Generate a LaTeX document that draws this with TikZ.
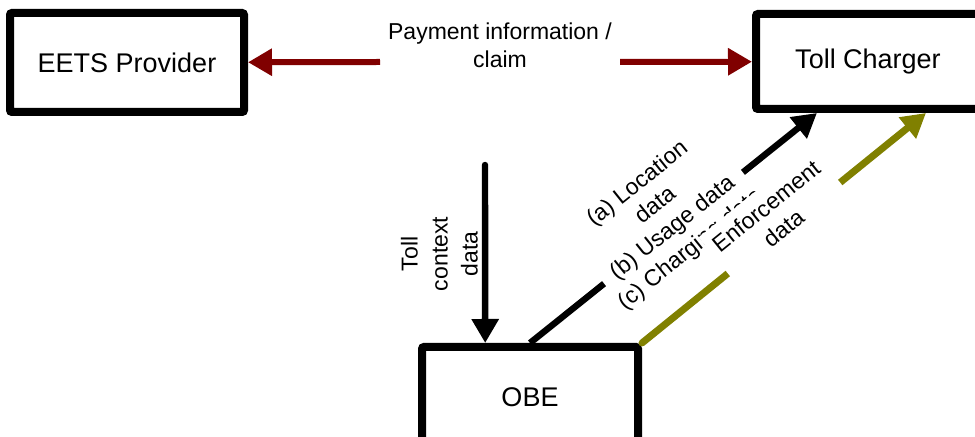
\documentclass[tikz,border=0pt]{standalone}
\usepackage{fontspec}
\setmainfont{Liberation Sans}
\usetikzlibrary{arrows.meta,calc}
\definecolor{darkred}{RGB}{128,0,0}
\definecolor{olivegreen}{RGB}{128,128,0}

\begin{document}
\begin{tikzpicture}[x=0.5pt, y=-0.5pt,
    box/.style={draw, line width=4pt, rounded corners=1pt, fill=white, minimum width=#1, minimum height=49.5pt, font=\fontsize{13.5}{16}\selectfont},
    flow/.style={line width=3.2pt, -{Triangle[length=12pt, width=13pt]}},
    lbl/.style={align=center, inner sep=1.5pt, font=\fontsize{11.5}{14}\selectfont}]
    \useasboundingbox (0,0) rectangle (975,437);
    \clip (0,0) rectangle (975,437);

    % the three parties
    \node[box=117pt] (eets) at (127,62.5) {EETS Provider};
    \node[box=112pt, minimum height=47.5pt] (toll) at (868,61.5) {Toll Charger};
    \node[box=108pt, minimum height=50pt] (obe) at (530,397) {OBE};

    % payment information / claim
    \node[lbl] (payinfo) at (500,45) {Payment information /\\claim};
    \coordinate (payL) at (380,62);
    \coordinate (payR) at (620,62);
    \draw[flow, darkred, line width=3pt] (payL) -- (eets);
    \draw[flow, darkred, line width=3pt] (payR) -- (toll);

    % toll context data
    \coordinate (ctx) at (485,165);
    \draw[flow, line cap=round] (ctx) -- node[midway, rotate=90, anchor=south, lbl, inner sep=2pt, font=\fontsize{11.5}{15}\selectfont] (ctxlbl) {Toll\\context\\data} ($(obe.north west)!0.3!(obe.north east)$);

    % data sent to the toll charger
    \coordinate (tcB) at ($(toll.south west)!0.28!(toll.south east)$);
    \coordinate (tcO) at ($(toll.south west)!0.75!(toll.south east)$);
    \draw[flow] (obe.north) -- node[midway, sloped, lbl, fill=white, inner xsep=0pt, yshift=7pt] (usage) {(a) Location\\data\\(b) Usage data\\(c) Charging data} (tcB);
    \draw[flow, olivegreen, line width=3.5pt, line cap=round] (obe.north east) -- node[midway, sloped, lbl, fill=white, text=black, inner xsep=3.5pt, inner ysep=5pt, yshift=7pt] (enf) {Enforcement\\data} (tcO);
\end{tikzpicture}
\end{document}
